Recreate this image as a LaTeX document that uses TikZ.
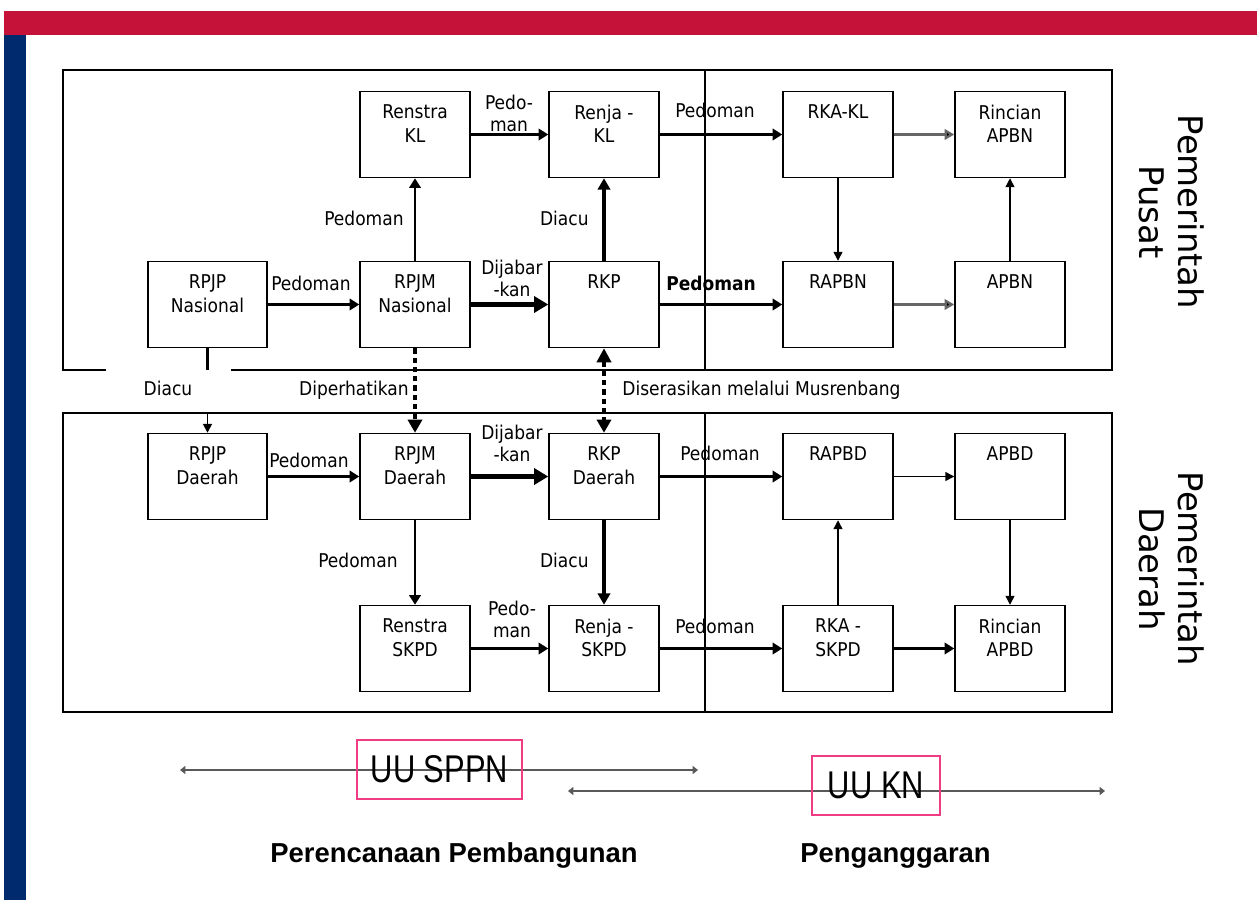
\documentclass[tikz,border=0pt]{standalone}
\usepackage{fontspec}
\setmainfont{DejaVu Sans}
\newfontfamily\condfont{DejaVu Sans Condensed}
\newfontfamily\arialfont{Liberation Sans}
\usetikzlibrary{arrows.meta}
\definecolor{barred}{RGB}{196,18,56}
\definecolor{barblue}{RGB}{0,42,110}
\definecolor{uupink}{RGB}{240,60,130}
\tikzset{
  box/.style={draw, line width=0.85pt, minimum width=2.2cm, minimum height=1.72cm, inner sep=0pt},
  boxtxt/.style={anchor=north, inner sep=0pt, yshift=-0.28cm, align=center, font=\condfont\fontsize{10.8}{13.2}\selectfont},
  lbl/.style={inner sep=0pt, align=center, text depth=0pt, font=\condfont\fontsize{10.8}{12.5}\selectfont},
  frame/.style={line width=0.8pt},
  divider/.style={line width=0.6pt},
  arr/.style={line width=1.4pt, -{Triangle[length=5.5pt,width=6.5pt]}},
  arrthick/.style={line width=3pt, -{Triangle[length=8pt,width=9pt]}},
  arrdiacu/.style={line width=2pt, -{Triangle[length=6.5pt,width=7pt]}},
  arrthin/.style={line width=0.75pt, -{Triangle[length=5pt,width=5pt]}},
  arrgray/.style={line width=1.3pt, draw=black!60, -{Triangle[length=5.5pt,width=6pt,fill=black]}},
  arrdot/.style={line width=2.2pt, dash pattern=on 3pt off 2.3pt, -{Triangle[length=7.5pt,width=8pt]}},
  arrdotboth/.style={line width=2.2pt, dash pattern=on 3pt off 2.3pt, {Triangle[length=8pt,width=8pt]}-{Triangle[length=7.5pt,width=8pt]}},
  uuarrow/.style={line width=1.4pt, draw=black!65, {Triangle[length=3pt,width=4.5pt]}-{Triangle[length=3pt,width=4.5pt]}},
  uubox/.style={draw=uupink, line width=0.9pt, inner sep=0pt, font=\arialfont\fontsize{22}{26}\selectfont},
  sidetxt/.style={rotate=-90, align=center, inner sep=0pt, font=\fontsize{19.3}{22}\selectfont},
  bottomtxt/.style={anchor=base, inner sep=0pt, font=\arialfont\bfseries\fontsize{15.6}{18}\selectfont}
}
\begin{document}
\begin{tikzpicture}[x=0.02cm,y=-0.02cm]
\useasboundingbox (0,0) rectangle (1257,900);
\fill[white] (0,0) rectangle (1257,900);
\fill[barred] (4,11) rectangle (1257,35);
\fill[barblue] (4,35) rectangle (26,900);

% frames
\draw[frame] (106,370) -- (63,370) -- (63,70) -- (1112,70) -- (1112,370) -- (231,370);
\draw[frame] (63,413) rectangle (1112,712);
\draw[divider] (705,70) -- (705,370);
\draw[divider] (705,413) -- (705,712);

% upper boxes
\node[box, label={[boxtxt]north:{Renstra\\KL}}] (renstrakl) at (415,134.5) {};
\node[box, label={[boxtxt]north:{Renja -\\KL}}] (renjakl) at (604,134.5) {};
\node[box, label={[boxtxt]north:{RKA-KL}}] (rkakl) at (838,134.5) {};
\node[box, label={[boxtxt]north:{Rincian\\APBN}}] (rincianapbn) at (1010,134.5) {};
\node[box, minimum width=2.38cm, label={[boxtxt]north:{RPJP\\Nasional}}] (rpjpn) at (207.5,304.5) {};
\node[box, label={[boxtxt]north:{RPJM\\Nasional}}] (rpjmn) at (415,304.5) {};
\node[box, label={[boxtxt]north:{RKP}}] (rkp) at (604,304.5) {};
\node[box, label={[boxtxt]north:{RAPBN}}] (rapbn) at (838,304.5) {};
\node[box, label={[boxtxt]north:{APBN}}] (apbn) at (1010,304.5) {};

% lower boxes
\node[box, minimum width=2.38cm, label={[boxtxt]north:{RPJP\\Daerah}}] (rpjpd) at (207.5,476.5) {};
\node[box, label={[boxtxt]north:{RPJM\\Daerah}}] (rpjmd) at (415,476.5) {};
\node[box, label={[boxtxt]north:{RKP\\Daerah}}] (rkpd) at (604,476.5) {};
\node[box, label={[boxtxt]north:{RAPBD}}] (rapbd) at (838,476.5) {};
\node[box, label={[boxtxt]north:{APBD}}] (apbd) at (1010,476.5) {};
\node[box, label={[boxtxt]north:{Renstra\\SKPD}}] (renstraskpd) at (415,648.5) {};
\node[box, label={[boxtxt]north:{Renja -\\SKPD}}] (renjaskpd) at (604,648.5) {};
\node[box, label={[boxtxt]north:{RKA -\\SKPD}}] (rkaskpd) at (838,648.5) {};
\node[box, label={[boxtxt]north:{Rincian\\APBD}}] (rincianapbd) at (1010,648.5) {};

% upper connectors
\draw[arr] (renstrakl) -- (renjakl);
\draw[arr] (renjakl) -- (rkakl);
\draw[arrgray] (rkakl) -- (rincianapbn);
\draw[arrthin] (rkakl) -- (rapbn);
\draw[arrthin] (apbn) -- (rincianapbn);
\draw[arr] (rpjpn) -- (rpjmn);
\draw[arrthick] (rpjmn) -- (rkp);
\draw[arr] (rkp) -- (rapbn);
\draw[arrgray] (rapbn) -- (apbn);
\draw[arr] (rpjmn) -- (renstrakl);
\draw[arrdiacu] (rkp) -- (renjakl);

% lower connectors
\draw[arr] (rpjpd) -- (rpjmd);
\draw[arrthick] (rpjmd) -- (rkpd);
\draw[arr] (rkpd) -- (rapbd);
\draw[arrthin] (rapbd) -- (apbd);
\draw[arrthin] (apbd) -- (rincianapbd);
\draw[arrthin] (rkaskpd) -- (rapbd);
\draw[arr] (rkaskpd) -- (rincianapbd);
\draw[arr] (rpjmd) -- (renstraskpd);
\draw[arrdiacu] (rkpd) -- (renjaskpd);
\draw[arr] (renstraskpd) -- (renjaskpd);
\draw[arr] (renjaskpd) -- (rkaskpd);

% cross connectors
\coordinate (diacutop) at (207.5,370);
\coordinate (diacubot) at (207.5,413);
\draw[line width=2pt] (rpjpn) -- (diacutop);
\draw[arrthin, line width=1pt] (diacubot) -- (rpjpd);
\draw[arrdot] (rpjmn) -- (rpjmd);
\draw[arrdotboth] (rkp) -- (rkpd);

% labels
\node[lbl] (l1) at (509,113) {Pedo-\\man};
\node[lbl] (l2) at (715,110) {Pedoman};
\node[lbl] (l3) at (311,283) {Pedoman};
\node[lbl] (l4) at (512,278) {Dijabar\\-kan};
\node[lbl, font=\condfont\bfseries\fontsize{10.8}{12.5}\selectfont] (l5) at (711,283) {Pedoman};
\node[lbl, anchor=east] (l6) at (404,218) {Pedoman};
\node[lbl, anchor=east] (l7) at (589,218) {Diacu};
\node[lbl] (l8) at (168,388) {Diacu};
\node[lbl, anchor=east] (l9) at (409,388) {Diperhatikan};
\node[lbl, anchor=west] (l10) at (622,388) {Diserasikan melalui Musrenbang};
\node[lbl] (l11) at (309,460) {Pedoman};
\node[lbl] (l12) at (512,443) {Dijabar\\-kan};
\node[lbl] (l13) at (720,453) {Pedoman};
\node[lbl, anchor=east] (l14) at (398,560) {Pedoman};
\node[lbl, anchor=east] (l15) at (589,560) {Diacu};
\node[lbl] (l16) at (512,619.5) {Pedo-\\man};
\node[lbl] (l17) at (715,626) {Pedoman};

% side texts
\node[sidetxt] (pusat) at (1171.5,212) {Pemerintah\\Pusat};
\node[sidetxt] (daerah) at (1171.5,569) {Pemerintah\\Daerah};

% bottom legend
\coordinate (s1l) at (180,770);
\coordinate (s1r) at (698,770);
\coordinate (k1l) at (568,791);
\coordinate (k1r) at (1105,791);
\draw[uuarrow] (s1l) -- (s1r);
\draw[uuarrow] (k1l) -- (k1r);
\node[uubox, minimum width=3.3cm, minimum height=1.18cm] (uusppn) at (439.5,769.5) {\scalebox{0.8}[1]{UU SPPN}};
\node[uubox, minimum width=2.56cm, minimum height=1.18cm] (uukn) at (876,785.5) {\scalebox{0.8}[1]{UU KN}};
\node[bottomtxt] (perencanaan) at (454,862) {Perencanaan Pembangunan};
\node[bottomtxt] (penganggaran) at (895.5,862) {Penganggaran};
\end{tikzpicture}
\end{document}
